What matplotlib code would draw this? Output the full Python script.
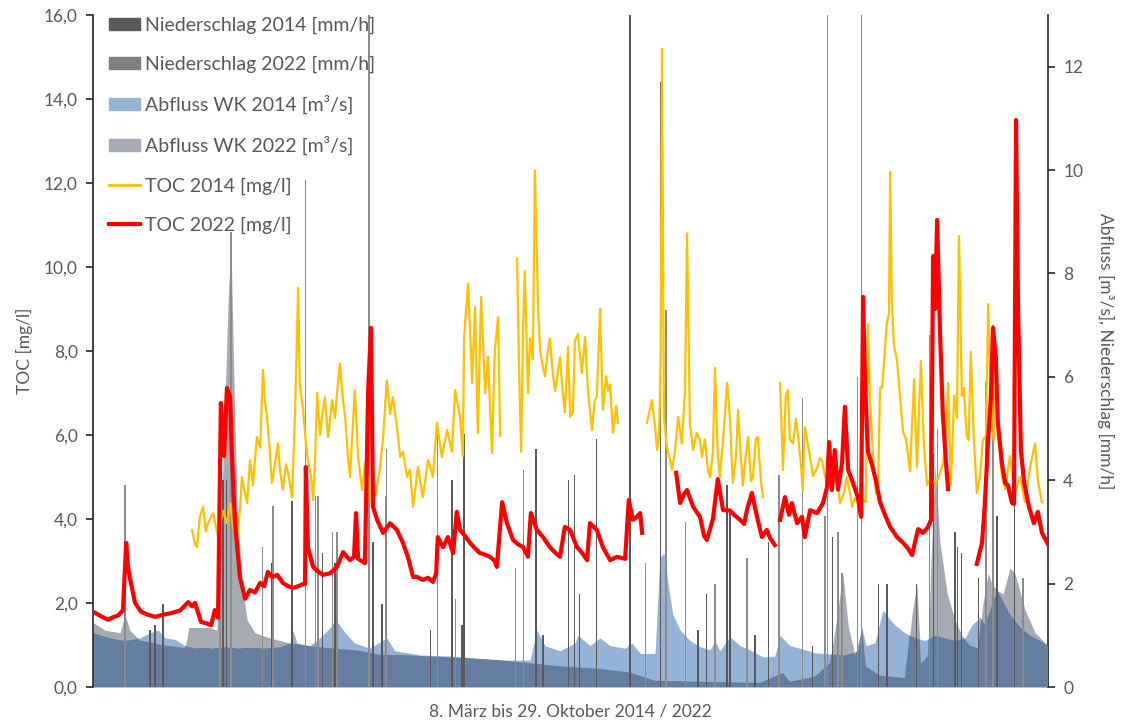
import numpy as np
import matplotlib.pyplot as plt
from matplotlib.patches import Patch
from matplotlib.lines import Line2D

plt.rcParams['font.family'] = ['Lato', 'DejaVu Sans']

# TOC 2022 [mg/l] - Tag seit 8. März, Wert (nan = Messlücke)
toc22_tag = [0.0, 1.7, 3.7, 4.9, 6.2, 7.4, 8.2, 8.6, 9.1, 10.4, 11.9, 13.6, 15.3, 17.3, 19.3, 21.5, 23.5, 24.5, 25.2,
             26.7, 27.9, 29.2, 30.1, 30.9, 31.6, 32.4, 33.1, 33.9, 34.3, 35.1, 36.3, 37.6, 38.8, 40.0, 41.3, 42.3,
             43.2, 44.2, 45.5, 46.9, 48.2, 49.4, 50.7, 51.9, 52.4, 52.6, 53.1, 54.4, 55.6, 56.8, 58.6, 60.3, 61.8,
             63.5, 64.5, 65.0, 65.5, 67.2, 68.0, 68.7, 69.2, 70.2, 71.7, 73.4, 75.1, 76.6, 77.8, 79.1, 80.1, 81.5,
             82.8, 84.0, 84.8, 85.2, 86.5, 87.7, 89.0, 89.9, 90.7, 91.9, 93.2, 94.4, 95.6, 96.9, 98.1, 99.3, 99.8,
             101.1, 102.3, 103.8, 105.0, 106.3, 107.5, 108.2, 109.7, 111.2, 112.9, 114.2, 115.4, 116.6, 117.9,
             118.6, 119.6, 120.8, 122.1, 122.8, 124.5, 126.0, 127.8, 129.5, 131.5, 132.4, 133.4, 134.4, 135.2,
             135.7, 140.0, 144.1, 145.1, 146.1, 146.8, 148.3, 150.0, 151.0, 151.7, 153.2, 154.4, 155.7, 157.4,
             158.4, 159.9, 160.9, 161.6, 162.8, 164.1, 165.3, 166.5, 167.3, 168.5, 169.2, 169.8, 171.0, 172.0,
             172.7, 174.0, 175.2, 175.9, 177.2, 178.9, 180.4, 181.4, 181.9, 182.6, 183.3, 184.1, 185.1, 185.8,
             186.6, 187.8, 189.0, 189.8, 190.3, 190.8, 191.5, 192.5, 193.5, 194.5, 195.7, 197.0, 198.7, 200.2,
             201.4, 202.4, 203.9, 205.1, 206.3, 207.1, 207.6, 208.1, 208.6, 209.3, 210.0, 210.8, 211.3, 215.0,
             218.4, 219.7, 220.4, 221.2, 221.9, 222.4, 223.1, 223.6, 224.6, 225.4, 226.1, 227.1, 227.6, 228.1,
             228.6, 229.3, 230.1, 231.3, 232.5, 233.5, 234.5, 236.0]
toc22_wert = [1.79, 1.70, 1.60, 1.66, 1.70, 1.83, 3.43, 2.90, 2.60, 2.00, 1.79, 1.72, 1.67, 1.72, 1.76, 1.82, 2.02,
              1.92, 2.00, 1.55, 1.52, 1.47, 1.83, 1.65, 6.76, 5.50, 7.12, 6.90, 5.60, 3.90, 2.62, 2.10, 2.31, 2.25,
              2.48, 2.40, 2.74, 2.62, 2.67, 2.48, 2.40, 2.36, 2.40, 2.45, 2.45, 5.24, 3.33, 2.86, 2.75, 2.67, 2.71,
              2.86, 3.21, 3.02, 3.10, 4.14, 3.05, 2.95, 7.07, 8.55, 4.29, 3.98, 3.67, 3.90, 3.74, 3.43, 3.10, 2.62,
              2.62, 2.55, 2.60, 2.50, 2.70, 3.57, 3.33, 3.57, 3.19, 4.17, 3.74, 3.60, 3.43, 3.30, 3.19, 3.15, 3.10,
              3.00, 2.86, 4.40, 3.90, 3.50, 3.40, 3.33, 3.10, 4.14, 3.74, 3.57, 3.33, 3.20, 3.10, 3.81, 3.74, 3.57,
              3.33, 3.20, 3.02, 3.90, 3.74, 3.33, 3.02, 3.10, 3.05, 4.45, 3.98, 4.05, 4.14, 3.67, np.nan, 5.10,
              4.38, 4.60, 4.69, 4.29, 4.05, 3.60, 3.50, 4.00, 4.95, 4.21, 4.20, 4.10, 3.98, 3.88, 4.21, 4.62, 4.05,
              3.57, 3.74, 3.55, 3.38, np.nan, 3.98, 4.52, 4.10, 4.38, 3.90, 4.05, 3.57, 4.21, 4.14, 4.38, 4.76, 5.83,
              4.69, 5.64, 4.70, 5.33, 6.67, 5.17, 4.86, 4.52, 4.05, 9.29, 7.20, 5.60, 5.30, 4.90, 4.40, 4.10, 3.81,
              3.57, 3.43, 3.30, 3.14, 3.76, 3.67, 3.80, 3.98, 10.26, 9.00, 11.12, 8.50, 6.50, 5.33, 4.71, np.nan,
              2.93, 3.43, 4.38, 5.88, 6.93, 8.55, 7.86, 6.29, 5.33, 4.86, 4.80, 4.38, 4.36, 13.50, 9.00, 5.64, 4.86,
              4.29, 3.90, 4.17, 3.67, 3.40]

# TOC 2014 [mg/l]
toc14_tag = [24.5, 25.2, 25.7, 26.4, 27.2, 27.9, 28.4, 29.7, 30.4, 30.9, 32.1, 33.1, 33.9, 34.6, 35.6, 36.3, 36.8,
             37.6, 38.1, 38.8, 39.5, 40.5, 41.3, 42.0, 42.5, 43.0, 43.7, 44.2, 45.0, 45.7, 46.2, 46.9, 47.7, 48.2,
             49.2, 49.9, 50.7, 51.1, 51.9, 52.6, 53.1, 53.9, 54.4, 54.9, 55.4, 56.1, 56.6, 57.3, 58.1, 59.1, 59.8,
             60.3, 61.0, 61.8, 62.3, 63.0, 63.5, 64.2, 64.7, 65.5, 66.5, 67.2, 68.0, 68.7, 69.9, 70.9, 71.7, 72.6,
             73.4, 74.1, 75.1, 75.9, 76.6, 77.6, 78.3, 79.1, 80.3, 81.5, 82.8, 84.0, 85.0, 86.2, 87.5, 88.7, 89.5,
             90.7, 91.4, 91.7, 92.7, 93.7, 94.4, 95.1, 95.9, 96.9, 97.6, 98.6, 99.3, 100.1, 100.6, 102.5,
             104.8, 105.3, 105.8, 106.3, 106.7, 107.5, 108.0, 108.7, 109.2, 110.0, 110.5, 111.2, 111.7, 112.4,
             112.9, 113.7, 114.2, 114.9, 115.4, 116.1, 116.6, 117.4, 117.9, 118.6, 119.1, 119.8, 120.8, 121.6,
             122.3, 123.3, 124.0, 124.5, 125.3, 126.0, 126.8, 127.3, 127.8, 128.5, 129.3, 129.7, 133.0,
             136.9, 137.6, 138.1, 138.9, 139.4, 139.9, 140.3, 140.6, 141.1, 141.8, 142.6, 143.1, 143.8, 144.6,
             145.5, 146.3, 146.8, 147.5, 148.3, 149.2, 150.0, 150.5, 151.2, 152.0, 152.5, 153.2, 153.7, 154.4,
             154.9, 155.7, 156.7, 157.4, 158.1, 158.9, 159.4, 160.1, 160.6, 161.4, 161.9, 162.6, 163.1, 163.8,
             164.3, 165.1, 165.6, 167.5,
             169.8, 170.5, 171.2, 171.7, 172.2, 173.0, 173.7, 174.2, 174.9, 175.4, 175.9, 176.7, 177.2, 177.9,
             178.9, 179.6, 180.1, 181.4, 182.1, 182.8, 183.8, 184.6, 185.6, 186.3, 187.1, 187.6, 188.3, 189.0,
             190.0, 191.0, 191.5, 192.0, 192.7, 193.5, 194.0, 194.5, 195.0, 195.5, 196.2, 196.7, 197.0, 197.4,
             197.9, 198.7, 199.4, 200.2, 200.9, 201.9, 202.9, 203.6, 204.6, 205.3, 206.1, 207.1, 208.1, 209.0,
             210.0, 210.8, 211.3, 212.0, 212.8, 213.5, 214.0, 214.7, 215.2, 215.9, 216.4, 216.9, 217.7, 218.4,
             219.2, 219.9, 220.7, 221.2, 221.9, 222.6, 223.1, 223.9, 224.6, 225.4, 226.6, 227.8, 229.1, 230.3,
             231.5, 232.8, 233.5, 234.5]
toc14_wert = [3.74, 3.40, 3.33, 4.05, 4.29, 3.70, 3.90, 4.14, 3.80, 3.57, 4.20, 3.90, 4.38, 3.80, 3.57, 4.20, 5.00,
              4.60, 4.38, 5.40, 4.80, 5.95, 5.70, 7.55, 6.80, 6.43, 5.60, 4.86, 5.33, 5.80, 5.17, 4.69, 5.30, 5.10,
              4.52, 6.43, 9.50, 7.20, 6.60, 5.80, 5.40, 5.00, 4.45, 5.50, 7.00, 6.00, 6.43, 6.90, 5.95, 6.83, 6.40,
              7.00, 7.70, 6.80, 6.43, 5.50, 5.00, 6.20, 7.07, 5.48, 4.69, 5.33, 5.00, 4.40, 4.60, 5.20, 5.95, 7.30,
              6.50, 6.90, 6.20, 5.48, 5.60, 5.00, 5.17, 4.29, 5.24, 4.52, 5.40, 5.00, 6.29, 5.48, 6.12, 5.60, 7.07,
              6.43, 5.50, 8.33, 9.60, 7.24, 9.05, 6.05, 9.29, 7.00, 7.86, 5.57, 8.02, 8.80, 5.98, np.nan,
              10.20, 7.50, 5.60, 8.60, 9.90, 7.00, 8.30, 7.80, 12.30, 9.00, 8.00, 7.60, 7.40, 8.00, 8.30, 7.40,
              7.05, 7.50, 7.85, 7.00, 6.55, 8.10, 6.43, 6.55, 8.26, 8.40, 7.48, 8.33, 7.07, 6.12, 6.83, 6.90, 9.00,
              6.60, 7.40, 7.05, 7.20, 6.05, 6.70, 6.29, np.nan,
              6.29, 6.60, 6.83, 6.20, 5.64, 6.00, 8.00, 15.20, 6.43, 5.71, 5.40, 5.17, 5.60, 6.43, 5.80, 7.07,
              10.80, 6.29, 5.64, 6.05, 5.88, 5.48, 5.90, 5.14, 5.00, 5.60, 7.60, 5.50, 5.00, 5.90, 7.24, 6.40, 4.86,
              5.50, 6.60, 5.45, 4.80, 5.60, 5.95, 4.90, 5.00, 5.90, 5.95, 4.85, 4.52, np.nan,
              7.24, 5.17, 6.93, 7.07, 5.90, 5.80, 6.38, 6.00, 5.33, 4.69, 6.19, 5.76, 5.48, 5.02, 5.20, 5.45, 5.40,
              4.80, 5.55, 4.81, 5.00, 4.38, 4.62, 5.00, 4.60, 4.29, 4.50, 4.40, 4.50, 4.40, 8.64, 6.93, 5.57, 4.60,
              4.80, 7.12, 7.14, 7.76, 8.67, 8.90, 12.26, 9.20, 8.17, 7.76, 6.93, 6.07, 5.90, 5.14, 7.33, 5.24, 7.76,
              5.80, 4.81, 5.00, 4.80, 5.00, 5.30, 5.88, 7.24, 4.81, 6.93, 6.40, 10.74, 6.93, 7.12, 6.00, 5.88, 7.98,
              5.88, 4.62, 5.00, 5.88, 6.00, 9.12, 6.93, 5.88, 7.24, 5.80, 5.02, 4.71, 5.50, 4.60, 5.00, 4.40, 5.20,
              5.80, 4.90, 4.40]

# Abfluss WK [m³/s]
abfluss14_tag = [0.0, 4.2, 7.9, 11.6, 14.1, 16.1, 17.8, 20.3, 22.7, 25.2, 28.9, 32.6, 36.3, 41.3, 46.2, 48.7, 49.4,
                 50.4, 53.6, 56.1, 58.6, 60.0, 62.3, 64.7, 68.4, 72.6, 74.6, 80.8, 88.2, 95.6, 103.0, 108.0, 109.7,
                 111.7, 115.4, 119.1, 119.8, 122.8, 125.3, 127.8, 131.5, 133.2, 135.2, 138.9, 140.1, 141.1, 142.1,
                 143.3, 145.1, 147.5, 150.0, 152.5, 153.7, 154.9, 157.4, 159.9, 162.3, 165.6, 168.5, 169.8, 172.2,
                 174.7, 178.4, 182.1, 185.8, 189.0, 190.0, 191.0, 193.2, 195.2, 197.0, 198.2, 200.6, 203.1, 205.6,
                 208.1, 210.5, 213.0, 215.5, 217.2, 219.2, 220.4, 221.6, 223.4, 224.6, 226.6, 229.1, 231.5, 234.0,
                 236.0]
abfluss14_wert = [1.05, 0.95, 0.90, 0.95, 1.05, 1.10, 0.95, 0.92, 0.80, 0.75, 0.75, 0.78, 0.75, 0.75, 0.78, 0.85,
                  1.10, 0.85, 0.80, 0.95, 1.15, 1.30, 1.05, 0.85, 0.75, 0.95, 0.70, 0.62, 0.60, 0.55, 0.52, 0.52,
                  1.10, 0.80, 0.70, 0.85, 1.00, 0.80, 0.95, 0.80, 0.75, 0.85, 0.65, 0.65, 2.50, 2.60, 2.00, 1.40,
                  1.10, 0.90, 0.78, 0.72, 0.90, 0.70, 0.97, 0.80, 0.72, 0.58, 0.60, 1.00, 0.80, 0.75, 0.66, 0.64,
                  0.62, 0.70, 1.16, 0.80, 0.85, 1.49, 1.30, 1.20, 1.05, 0.95, 0.90, 1.00, 0.95, 0.90, 0.95, 1.20,
                  1.35, 1.20, 1.50, 1.87, 1.70, 1.40, 1.16, 1.00, 0.90, 0.80]

abfluss22_tag = [0.0, 3.0, 6.7, 7.9, 9.1, 11.6, 16.6, 22.7, 23.7, 28.9, 30.6, 31.4, 32.4, 33.4, 34.1, 34.8, 35.6,
                 36.8, 38.1, 40.0, 43.7, 48.7, 52.4, 58.6, 66.0, 70.9, 75.9, 85.7, 95.6, 105.5, 115.4, 125.3, 132.7,
                 138.9, 150.0, 164.8, 170.5, 172.2, 178.4, 182.1, 184.1, 185.3, 186.6, 188.3, 190.0, 191.0, 194.5,
                 200.6, 202.4, 203.6, 204.6, 206.3, 207.1, 208.1, 209.3, 211.1, 213.0, 214.7, 216.7, 218.7, 219.9,
                 221.2, 222.1, 223.4, 224.9, 226.6, 227.8, 230.3, 232.8, 236.0]
abfluss22_wert = [1.25, 1.10, 1.05, 1.40, 1.10, 0.90, 0.82, 0.75, 1.15, 1.15, 1.10, 2.50, 5.00, 7.50, 8.60, 6.00,
                  3.50, 2.00, 1.30, 1.05, 0.95, 0.85, 0.80, 0.75, 0.70, 0.62, 0.62, 0.58, 0.55, 0.48, 0.40, 0.35,
                  0.28, 0.12, 0.10, 0.08, 0.27, 0.10, 0.20, 0.46, 1.50, 2.20, 1.20, 0.60, 1.16, 0.40, 0.22, 0.17,
                  1.40, 2.00, 0.45, 0.60, 2.50, 4.30, 2.80, 1.80, 1.30, 1.00, 0.80, 0.75, 1.60, 2.20, 2.00, 1.87,
                  1.80, 2.30, 2.20, 1.50, 1.05, 0.80]

# Niederschlag [mm/h], einzelne Ereignisse
regen14_tag = [14.1, 15.3, 17.3, 32.1, 32.9, 44.2, 49.2, 56.8, 59.8, 69.2, 71.4, 83.5, 88.7, 91.2, 91.7, 109.5,
               111.2, 117.6, 118.9, 120.3, 124.5, 132.7, 140.3, 149.5, 151.7, 156.7, 157.4, 163.6, 167.0, 177.9,
               182.8, 194.2, 196.2, 203.6, 207.8, 213.0, 213.7, 214.7, 218.9, 223.4, 227.8]
regen14_wert = [1.1, 1.2, 1.6, 4.0, 4.0, 2.4, 3.6, 2.6, 2.4, 2.8, 1.6, 1.1, 4.0, 1.2, 4.9, 4.6, 1.0, 4.0, 4.1, 1.8,
                4.8, 14.0, 11.7, 1.1, 1.8, 3.9, 3.4, 1.0, 2.8, 0.8, 2.9, 2.0, 2.0, 2.0, 4.5, 3.0, 2.7, 2.6, 2.1,
                3.3, 3.6]

regen22_tag = [7.9, 31.4, 34.1, 41.8, 44.5, 52.6, 54.9, 55.6, 59.1, 60.3, 68.2, 72.2, 72.6, 85.2, 89.5, 104.5,
               106.3, 136.6, 141.6, 146.5, 153.7, 161.6, 169.5, 175.4, 180.9, 181.6, 184.1, 185.1, 189.0, 190.0,
               206.8, 208.6, 220.7, 222.4, 229.8]
regen22_wert = [3.9, 3.9, 8.8, 2.7, 3.5, 9.8, 3.7, 3.7, 3.0, 3.0, 14.0, 3.7, 4.6, 5.1, 1.7, 2.3, 4.2, 2.4, 7.3, 3.2,
                2.0, 2.5, 4.1, 5.6, 3.3, 14.0, 3.0, 2.2, 6.0, 14.0, 6.8, 5.0, 5.9, 7.0, 2.1]

toc_ticks = [0, 2, 4, 6, 8, 10, 12, 14, 16]
rechts_ticks = [0, 2, 4, 6, 8, 10, 12]

grau_text = '#595959'
fig = plt.figure(figsize=(11.21, 7.23), dpi=100)
ax = fig.add_axes([93 / 1121, 36 / 723, 955 / 1121, 672 / 723])
ax2 = ax.twinx()

# Abflussflächen: Überlappung beider Jahre dunkler
ax2.fill_between(abfluss14_tag, 0, abfluss14_wert, color='#95B3D7', linewidth=0, zorder=1)
flaeche22 = ax2.fill_between(abfluss22_tag, 0, abfluss22_wert, color='#A6ABB3', linewidth=0, zorder=2)
overlap = ax2.fill_between(abfluss14_tag, 0, abfluss14_wert, color='#657D9F', linewidth=0, zorder=3)
overlap.set_clip_path(flaeche22.get_paths()[0], ax2.transData)

ax2.bar(regen22_tag, regen22_wert, width=0.3, color='#8C8C8C', linewidth=0, zorder=4)
ax2.bar(regen14_tag, regen14_wert, width=0.3, color='#595959', linewidth=0, zorder=5)

ax.plot(toc14_tag, toc14_wert, color='#FFC000', linewidth=1.6, zorder=3)
ax.plot(toc22_tag, toc22_wert, color='#FF0000', linewidth=3.0, zorder=4)

ax.set_zorder(ax2.get_zorder() + 1)
ax.patch.set_visible(False)

ax.set_xlim(0, 236)
ax.set_ylim(0, 16)
ax2.set_ylim(0, 13)
ax.set_yticks(toc_ticks)
ax.set_yticklabels([f'{t:.1f}'.replace('.', ',') for t in toc_ticks])
ax2.set_yticks(rechts_ticks)
ax2.set_yticklabels([str(t) for t in rechts_ticks])
ax.set_xticks([])

for a in (ax, ax2):
    a.spines['top'].set_visible(False)
    a.spines['bottom'].set_visible(False)
    a.tick_params(axis='y', colors=grau_text, labelsize=12.5, length=5, width=1.2, pad=6)
ax.spines['left'].set_color('#262626')
ax.spines['left'].set_linewidth(1.2)
ax2.spines['right'].set_color('#262626')
ax2.spines['right'].set_linewidth(1.2)
ax.spines['right'].set_visible(False)
ax2.spines['left'].set_visible(False)
ax.tick_params(axis='y', color='#262626')
ax2.tick_params(axis='y', color='#262626')

ax.set_ylabel('TOC [mg/l]', color=grau_text, fontsize=12.5, labelpad=8)
ax2.set_ylabel('Abfluss [m³/s], Niederschlag [mm/h]', color=grau_text, fontsize=12.5, rotation=270,
               labelpad=22)
ax.set_xlabel('8. März bis 29. Oktober 2014 / 2022', color=grau_text, fontsize=12.5, labelpad=12)

handles = [Patch(color='#595959'), Patch(color='#7F7F7F'), Patch(color='#95B3D7'), Patch(color='#A6ABB3'),
           Line2D([], [], color='#FFC000', linewidth=2), Line2D([], [], color='#FF0000', linewidth=3)]
labels = ['Niederschlag 2014 [mm/h]', 'Niederschlag 2022 [mm/h]', 'Abfluss WK 2014 [m³/s]',
          'Abfluss WK 2022 [m³/s]', 'TOC 2014 [mg/l]', 'TOC 2022 [mg/l]']
leg = ax.legend(handles, labels, loc='upper left', bbox_to_anchor=(0.0125, 1.003), frameon=False, fontsize=14,
                labelspacing=1.12, handlelength=1.6, handleheight=0.6, handletextpad=0.25, borderaxespad=0.0,
                borderpad=0.2)
for t in leg.get_texts():
    t.set_color(grau_text)

fig.savefig('out.png', dpi=100)
